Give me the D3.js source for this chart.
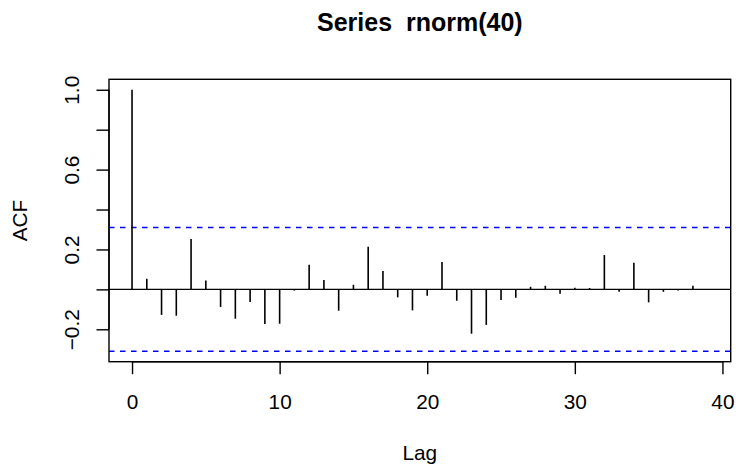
<!DOCTYPE html>
<html>
<head>
<meta charset="utf-8">
<script src="https://cdn.jsdelivr.net/npm/d3@7"></script>
<style>
  html, body { margin: 0; padding: 0; background: #ffffff; }
  svg { display: block; }
  text { font-family: "Liberation Sans", Arial, Helvetica, sans-serif; fill: #000; }
</style>
</head>
<body>
<script>
// ---- data ----
const lags = d3.range(0, 40);
const acfValues = [
  1.000, 0.053, -0.128, -0.132, 0.252, 0.045, -0.088, -0.147, -0.063, -0.173,
  -0.172, -0.006, 0.123, 0.047, -0.107, 0.023, 0.213, 0.092, -0.040, -0.105,
  -0.032, 0.137, -0.057, -0.222, -0.178, -0.053, -0.042, 0.013, 0.018, -0.022,
  0.008, 0.007, 0.172, -0.012, 0.133, -0.065, -0.012, -0.005, 0.018, -0.003
];
const clim = 0.3099;
const xTicks = [0, 10, 20, 30, 40];
const yTicks = [-0.2, 0, 0.2, 0.4, 0.6, 0.8, 1.0];
const yTickLabels = ["\u22120.2", "", "0.2", "", "0.6", "", "1.0"];
const titleText = "Series  rnorm(40)";
const xLabel = "Lag";
const yLabel = "ACF";

// ---- layout ----
const W = 736, H = 465;
const plot = { left: 109, right: 730.7, top: 79.3, bottom: 361.7 };
const base = 20.8;

const svg = d3.select("body").append("svg").attr("width", W).attr("height", H);

const xPad = 0.04 * (d3.max(lags) - d3.min(lags));
const x = d3.scaleLinear()
  .domain([d3.min(lags) - xPad, d3.max(lags) + xPad])
  .range([plot.left, plot.right]);
const yMin = Math.min(-clim, d3.min(acfValues)), yMax = Math.max(clim, d3.max(acfValues));
const yPad = 0.04 * (yMax - yMin);
const y = d3.scaleLinear()
  .domain([yMin - yPad, yMax + yPad])
  .range([plot.bottom, plot.top]);

// zero line
svg.append("line")
  .attr("x1", plot.left).attr("x2", plot.right)
  .attr("y1", y(0)).attr("y2", y(0))
  .attr("stroke", "#000").attr("stroke-width", 1.3);

// confidence lines
[clim, -clim].forEach(v => {
  svg.append("line")
    .attr("x1", plot.left).attr("x2", plot.right)
    .attr("y1", y(v)).attr("y2", y(v))
    .attr("stroke", "#0000ff").attr("stroke-width", 1.3)
    .attr("stroke-dasharray", "5.5,5.5");
});

// spikes
svg.append("g").selectAll("line")
  .data(lags)
  .join("line")
  .attr("x1", d => x(d)).attr("x2", d => x(d))
  .attr("y1", y(0)).attr("y2", (d, i) => y(acfValues[i]))
  .attr("stroke", "#000").attr("stroke-width", 1.6);

// box
svg.append("rect")
  .attr("x", plot.left).attr("y", plot.top)
  .attr("width", plot.right - plot.left).attr("height", plot.bottom - plot.top)
  .attr("fill", "none").attr("stroke", "#000").attr("stroke-width", 1.4);

// x axis
const xAxis = d3.axisBottom(x).tickValues(xTicks).tickSize(12.5).tickPadding(0).tickFormat(d3.format("d"));
const gx = svg.append("g").attr("transform", `translate(0,${plot.bottom})`).call(xAxis);
gx.select(".domain")
  .attr("d", `M${x(xTicks[0])},0H${x(xTicks[xTicks.length - 1])}`)
  .attr("stroke-width", 1.4);
gx.selectAll(".tick line").attr("stroke-width", 1.4);
gx.selectAll(".tick text")
  .attr("font-size", base).attr("font-family", "Liberation Sans, Arial, sans-serif")
  .attr("dy", null).attr("y", 409.3 - plot.bottom);

// y axis
const yAxis = d3.axisLeft(y).tickValues(yTicks).tickSize(12.5).tickPadding(0)
  .tickFormat((d, i) => yTickLabels[i]);
const gy = svg.append("g").attr("transform", `translate(${plot.left},0)`).call(yAxis);
gy.select(".domain")
  .attr("d", `M0,${y(yTicks[0])}V${y(yTicks[yTicks.length - 1])}`)
  .attr("stroke-width", 1.4);
gy.selectAll(".tick line").attr("stroke-width", 1.4);
gy.selectAll(".tick text")
  .attr("font-size", base).attr("font-family", "Liberation Sans, Arial, sans-serif")
  .attr("x", null).attr("dy", null)
  .attr("text-anchor", "middle")
  .attr("transform", `translate(${79 - plot.left},0) rotate(-90)`);

// title
svg.append("text")
  .attr("x", (plot.left + plot.right) / 2).attr("y", 30.5)
  .attr("text-anchor", "middle").attr("font-weight", "bold").attr("font-size", 25)
  .style("white-space", "pre")
  .text(titleText);

// axis titles
svg.append("text")
  .attr("x", (plot.left + plot.right) / 2).attr("y", 460)
  .attr("text-anchor", "middle").attr("font-size", base)
  .text(xLabel);
svg.append("text")
  .attr("transform", `translate(27,${(plot.top + plot.bottom) / 2}) rotate(-90)`)
  .attr("text-anchor", "middle").attr("font-size", base)
  .text(yLabel);
</script>
</body>
</html>
